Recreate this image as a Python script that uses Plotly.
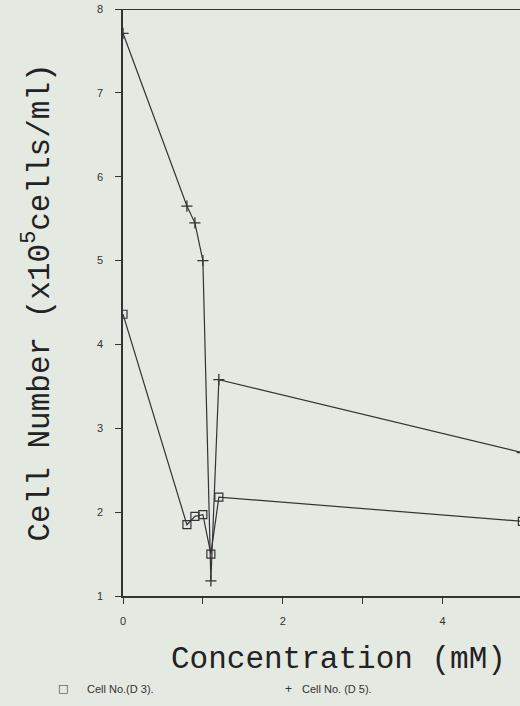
import plotly.graph_objects as go

# Cell counts versus concentration, day 3 and day 5
conc_d3 = [0, 0.8, 0.9, 1.0, 1.1, 1.2, 5.0]
cells_d3 = [4.36, 1.85, 1.95, 1.97, 1.50, 2.18, 1.89]

conc_d5 = [0, 0.8, 0.9, 1.0, 1.1, 1.2, 5.0]
cells_d5 = [7.71, 5.65, 5.45, 5.00, 1.18, 3.58, 2.71]

x_tickvals = [0, 2, 4]
x_ticktext = ["0", "2", "4"]
x_minor_ticks = [1, 3]
y_tickvals = [1, 2, 3, 4, 5, 6, 7, 8]
y_ticktext = ["1", "2", "3", "4", "5", "6", "7", "8"]

bg = "#e4e9e2"
ink = "#333333"
mono = "Liberation Mono, Courier New, monospace"
narrow = "Liberation Sans Narrow, Arial Narrow, Liberation Sans, sans-serif"

fig = go.Figure()
fig.add_trace(go.Scatter(
    x=conc_d3, y=cells_d3, mode="lines+markers", name="Cell No.(D 3).",
    line=dict(color=ink, width=1.2),
    marker=dict(symbol="square-open", size=8, color=ink, line=dict(width=1.2)),
    cliponaxis=True,
))
fig.add_trace(go.Scatter(
    x=conc_d5, y=cells_d5, mode="lines+markers", name="Cell No. (D 5).",
    line=dict(color=ink, width=1.2),
    marker=dict(symbol="cross-thin", size=8, color=ink, line=dict(width=1.3, color=ink)),
    cliponaxis=True,
))

# top frame line
fig.add_shape(type="line", xref="paper", yref="y", x0=0, x1=1, y0=8, y1=8,
              line=dict(color=ink, width=1.8))

fig.update_layout(
    width=520, height=706,
    margin=dict(l=123, r=0, t=9, b=110),
    paper_bgcolor=bg, plot_bgcolor=bg,
    showlegend=False,
    xaxis=dict(
        range=[0, 4.97], tickvals=x_tickvals, ticktext=x_ticktext,
        minor=dict(tickvals=x_minor_ticks, ticks="outside", ticklen=6,
                   tickcolor=ink, tickwidth=1.2),
        showgrid=False, zeroline=False, showline=True, linecolor=ink, linewidth=1.5,
        ticks="outside", ticklen=6, tickcolor=ink, tickwidth=1.2,
        tickfont=dict(family=narrow, size=11, color=ink), ticklabelstandoff=8,
    ),
    yaxis=dict(
        range=[1, 8], tickvals=y_tickvals, ticktext=y_ticktext,
        showgrid=False, zeroline=False, showline=True, linecolor=ink, linewidth=1.5,
        ticks="outside", ticklen=6, tickcolor=ink, tickwidth=1.2,
        tickfont=dict(family=narrow, size=11, color=ink), ticklabelstandoff=10,
    ),
    annotations=[
        dict(text="Concentration (mM)", xref="paper", yref="paper",
             x=(338 - 123) / 397, y=-(661 - 597) / 588, showarrow=False,
             xanchor="center", yanchor="middle",
             font=dict(family=mono, size=31, color="#222222")),
        dict(text="Cell Number (x10<sup>5</sup>cells/ml)", xref="paper", yref="paper",
             x=-(123 - 37) / 397, y=0.5, textangle=-90, showarrow=False,
             xanchor="center", yanchor="middle",
             font=dict(family=mono, size=31, color="#222222")),
        dict(text="\u25a1", xref="paper", yref="paper",
             x=-(123 - 63) / 397, y=-(690 - 597) / 588, showarrow=False,
             xanchor="center", yanchor="middle",
             font=dict(family="DejaVu Sans", size=11, color=ink)),
        dict(text="Cell No.(D 3).", xref="paper", yref="paper",
             x=-(123 - 85) / 397, y=-(690 - 597) / 588, showarrow=False,
             xanchor="left", yanchor="middle",
             font=dict(family=narrow, size=11, color=ink)),
        dict(text="+", xref="paper", yref="paper",
             x=(288 - 123) / 397, y=-(690 - 597) / 588, showarrow=False,
             xanchor="center", yanchor="middle",
             font=dict(family=narrow, size=12, color=ink)),
        dict(text="Cell No. (D 5).", xref="paper", yref="paper",
             x=(300 - 123) / 397, y=-(690 - 597) / 588, showarrow=False,
             xanchor="left", yanchor="middle",
             font=dict(family=narrow, size=11, color=ink)),
    ],
)

fig.write_html("out.html")
